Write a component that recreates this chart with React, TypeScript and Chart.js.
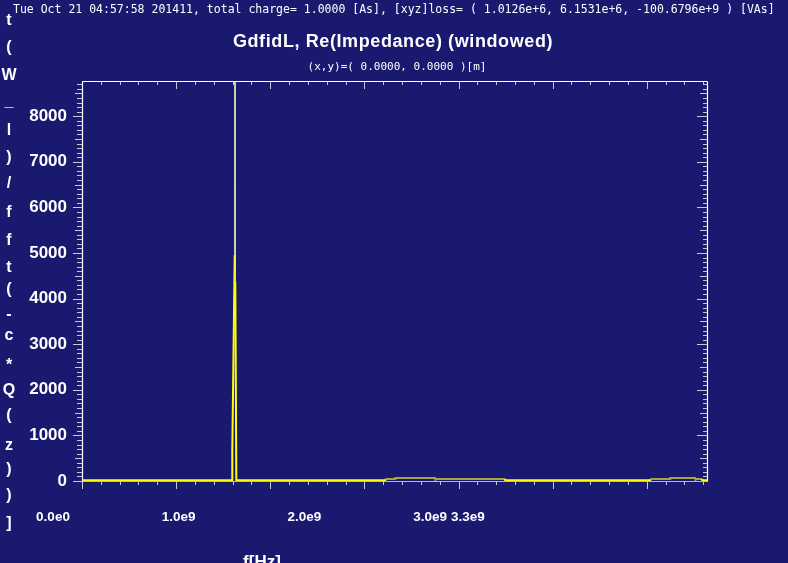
import React, { useEffect, useRef } from 'react';
import { Chart, registerables } from 'chart.js';

Chart.register(...registerables);

// ---------- texts ----------
const headerText =
  'Tue Oct 21 04:57:58 201411, total charge= 1.0000 [As], [xyz]loss= ( 1.0126e+6, 6.1531e+6, -100.6796e+9 ) [VAs]';
const titleText = 'GdfidL, Re(Impedance) (windowed)';
const subtitleText = '(x,y)=( 0.0000, 0.0000 )[m]';
const yTitleChars = ['t', '(', 'W', '_', 'l', ')', '/', 'f', 'f', 't', '(', '-', 'c', '*', 'Q', '(', 'z', ')', ')', ']'];
const yTitleBaselines = [25, 52, 80, 106, 135, 162, 188, 217, 245, 272, 294, 319, 340, 370, 395, 420, 450, 474, 500, 528];
const xTitle = 'f[Hz]';

// ---------- data ----------
const freqHz = [
  0, 0.7915e9, 0.793e9, 0.806e9, 0.8075e9, 0.809e9, 0.8145e9,
  1.605e9, 1.606e9, 1.658e9, 1.659e9, 1.87e9, 1.871e9, 2.242e9, 2.243e9,
  3.013e9, 3.014e9, 3.119e9, 3.12e9, 3.252e9, 3.253e9, 3.289e9, 3.29e9, 3.32e9,
];
const impedance = [
  15, 15, 640, 4960, 90000, 4370, 15,
  15, 45, 45, 65, 65, 45, 45, 15,
  15, 45, 45, 65, 65, 45, 45, 15, 15,
];

// ---------- axes ----------
const xMin = 0;
const xMax = 3.32e9;
const yMin = 0;
const yMax = 8750;
const yTickValues = [0, 1000, 2000, 3000, 4000, 5000, 6000, 7000, 8000];
const xLabelValues = [0, 1e9, 2e9, 3e9, 3.3e9];
const xLabelTexts = ['0.0e0', '1.0e9', '2.0e9', '3.0e9', '3.3e9'];
const xLabelScaleMax = 4.972e9;
const xMinorStep = 1e8;
const xTickEnd = 3.3e9;
const yMinorStep = 100;

const BG = '#191970';

const decorPlugin = {
  id: 'decor',
  beforeDatasetsDraw(chart: any) {
    const { ctx, chartArea, scales } = chart;
    const { left, right, top, bottom } = chartArea;
    const xs = scales.x;
    const ys = scales.y;
    const line = (x1: number, y1: number, x2: number, y2: number) => {
      ctx.beginPath();
      ctx.moveTo(x1, y1);
      ctx.lineTo(x2, y2);
      ctx.stroke();
    };
    ctx.save();
    ctx.strokeStyle = '#c8c8dc';
    ctx.lineWidth = 1;
    const nx = Math.round(xTickEnd / xMinorStep);
    for (let i = 0; i <= nx; i++) {
      const px = Math.round(xs.getPixelForValue(i * xMinorStep)) - 0.5;
      const major = i % 5 === 0;
      line(px, bottom, px, bottom + (major ? 8 : 4));
      line(px, top, px, top + (major ? 7 : 3));
    }
    const ny = Math.floor(yMax / yMinorStep);
    for (let i = 0; i <= ny; i++) {
      const py = Math.round(ys.getPixelForValue(i * yMinorStep)) + 0.5;
      const lenL = i % 10 === 0 ? 9 : i % 5 === 0 ? 7 : 5;
      const lenR = i % 10 === 0 ? 11 : i % 5 === 0 ? 8 : 5;
      line(left - 1 - lenL, py, left - 1, py);
      line(right - lenR, py, right, py);
    }
    ctx.strokeStyle = '#ffffff';
    ctx.lineWidth = 1.2;
    line(left - 0.5, top - 0.5, right - 0.5, top - 0.5);
    line(left - 0.5, top - 0.5, left - 0.5, bottom + 0.5);
    line(right - 0.5, top - 0.5, right - 0.5, bottom + 0.5);
    ctx.strokeStyle = '#b8b8d0';
    line(left - 0.5, bottom + 0.5, right - 0.5, bottom + 0.5);
    ctx.restore();
  },
  afterDraw(chart: any) {
    const { ctx } = chart;
    ctx.save();
    ctx.fillStyle = '#ffffff';
    ctx.textBaseline = 'alphabetic';

    ctx.textAlign = 'left';
    ctx.font = '11.5px "DejaVu Sans Mono"';
    ctx.fillText(headerText, 13, 13);

    ctx.textAlign = 'center';
    ctx.font = 'bold 18px "Liberation Sans"';
    try { (ctx as any).letterSpacing = '0.6px'; } catch (e) {}
    ctx.fillText(titleText, 393, 47);
    try { (ctx as any).letterSpacing = '0px'; } catch (e) {}

    ctx.font = '11px "DejaVu Sans Mono"';
    ctx.fillText(subtitleText, 397, 70);

    ctx.font = 'bold 16px "Liberation Sans"';
    yTitleChars.forEach((ch, i) => {
      ctx.fillText(ch, 9, yTitleBaselines[i]);
    });

    ctx.font = 'bold 17px "Liberation Sans"';
    ctx.fillText(xTitle, 262, 567);
    ctx.restore();
  },
};

export default function App() {
  const canvasRef = useRef<HTMLCanvasElement | null>(null);

  useEffect(() => {
    const canvas = canvasRef.current;
    if (!canvas) return;
    const points = freqHz.map((f, i) => ({ x: f, y: impedance[i] }));
    const chart = new Chart(canvas, {
      type: 'line',
      data: {
        datasets: [
          {
            data: points,
            borderColor: '#ffff00',
            borderWidth: 2,
            pointRadius: 0,
            tension: 0,
            fill: false,
            segment: {
              borderColor: (c: any) => {
                const a = c.p0.parsed.y;
                const b = c.p1.parsed.y;
                if (a > yMax || b > yMax) return '#e8e8b4';
                if (a > 30 && b > 30 && a < 200 && b < 200) return '#a6a63a';
                return undefined;
              },
              borderWidth: (c: any) => {
                const a = c.p0.parsed.y;
                const b = c.p1.parsed.y;
                if (a > yMax || b > yMax) return 1.2;
                return undefined;
              },
            },
          },
        ],
      },
      options: {
        animation: false,
        responsive: true,
        maintainAspectRatio: false,
        devicePixelRatio: 1,
        events: [],
        layout: { padding: { left: 0, right: 80, top: 82, bottom: 0 } },
        plugins: {
          legend: { display: false },
          title: { display: false },
          tooltip: { enabled: false },
        },
        scales: {
          x: {
            type: 'linear',
            display: false,
            min: xMin,
            max: xMax,
          },
          xl: {
            type: 'linear',
            position: 'bottom',
            min: 0,
            max: xLabelScaleMax,
            grid: { display: false, drawTicks: false },
            border: { display: false },
            afterBuildTicks: (scale: any) => {
              scale.ticks = xLabelValues.map((v) => ({ value: v }));
            },
            afterFit: (scale: any) => {
              scale.height = 82;
            },
            ticks: {
              autoSkip: false,
              maxRotation: 0,
              minRotation: 0,
              padding: 28,
              labelOffset: -30,
              color: '#ffffff',
              font: { family: '"Liberation Sans"', size: 13.5, weight: 'bold' },
              callback: (v: any) => {
                const idx = xLabelValues.indexOf(Number(v));
                return idx >= 0 ? xLabelTexts[idx] : '';
              },
            },
          },
          y: {
            type: 'linear',
            position: 'left',
            min: yMin,
            max: yMax,
            grid: { display: false, drawTicks: false },
            border: { display: false },
            afterBuildTicks: (scale: any) => {
              scale.ticks = yTickValues.map((v) => ({ value: v }));
            },
            afterFit: (scale: any) => {
              scale.width = 83;
            },
            ticks: {
              padding: 16,
              color: '#ffffff',
              font: { family: '"Liberation Sans"', size: 17, weight: 'bold' },
              callback: (v: any) => String(v),
            },
          },
        },
      },
      plugins: [decorPlugin],
    } as any);
    return () => chart.destroy();
  }, []);

  return (
    <div
      style={{
        position: 'absolute',
        left: 0,
        top: 0,
        width: 788,
        height: 563,
        background: BG,
        overflow: 'hidden',
      }}
    >
      <canvas ref={canvasRef} />
    </div>
  );
}
